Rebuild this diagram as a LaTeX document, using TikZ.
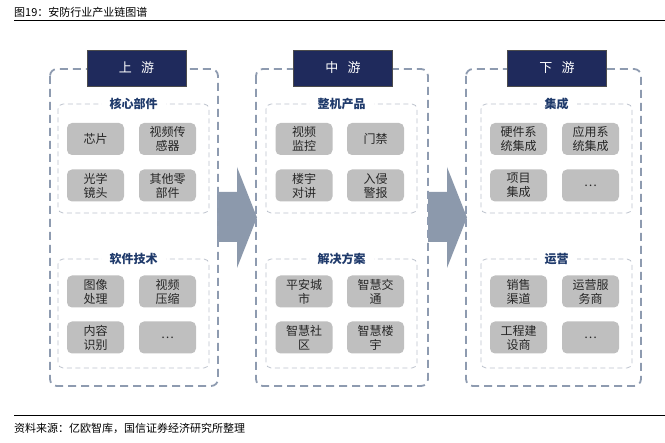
\documentclass[tikz,border=0pt]{standalone}
\usepackage{fontspec}
\setmainfont{Noto Sans CJK SC}
\usetikzlibrary{positioning}

\definecolor{navy}{HTML}{1F2A5C}
\definecolor{lblblue}{HTML}{1F3A6B}
\definecolor{outerc}{HTML}{8E9BB0}
\definecolor{innerc}{HTML}{BCC2CC}
\definecolor{cellc}{HTML}{BFBFBF}
\definecolor{arrc}{HTML}{8C99AC}

\begin{document}
\begin{tikzpicture}[x=1pt,y=-1pt,
  outerbox/.style={draw=outerc,line width=1.8pt,dash pattern=on 8pt off 5pt,rounded corners=7pt},
  innerbox/.style={draw=innerc,line width=0.8pt,dash pattern=on 5pt off 3.5pt,rounded corners=5pt},
  hdr/.style={draw=black!70,line width=0.5pt,fill=navy,text=white,minimum width=99pt,minimum height=36pt,font=\fontsize{13}{15}\selectfont},
  grp/.style={fill=white,text=lblblue,inner xsep=8pt,inner ysep=1pt,font=\fontsize{12}{14}\selectfont\bfseries},
  cell/.style={fill=cellc,rounded corners=5pt,text=black!85,text width=55pt,align=center,minimum height=32pt,inner sep=1pt,font=\fontsize{12}{14}\selectfont}]
\useasboundingbox (0,0) rectangle (665,443);

% title and source
\node[anchor=west,inner sep=0pt,font=\fontsize{11}{13}\selectfont] (title) at (14,12) {图19：安防行业产业链图谱};
\draw[line width=1pt] (14,21) -- (665,21);
\draw[line width=1pt] (14,416) -- (665,416);
\node[anchor=west,inner sep=0pt,font=\fontsize{11}{13}\selectfont] (src) at (14,428) {资料来源：亿欧智库，国信证券经济研究所整理};

% block arrows
\fill[arrc] (217,192) -- (237,192) -- (237,167) -- (257,217.5) -- (237,268) -- (237,242) -- (217,242) -- cycle;
\fill[arrc] (428,192) -- (447,192) -- (447,167) -- (467,217.5) -- (447,268) -- (447,242) -- (428,242) -- cycle;

% outer frames
\draw[outerbox] (50,69) rectangle (218,386);
\draw[outerbox] (256,69) rectangle (428,386);
\draw[outerbox] (466,69) rectangle (641,386);

% inner frames
\draw[innerbox] (58,104) rectangle (209,213);
\draw[innerbox] (58,259) rectangle (209,368);
\draw[innerbox] (266,104) rectangle (417,213);
\draw[innerbox] (266,259) rectangle (417,368);
\draw[innerbox] (481,104) rectangle (632,213);
\draw[innerbox] (481,259) rectangle (632,368);

% headers
\node[hdr] (up) at (136.5,68) {上\hspace{0.7em}游};
\node[hdr] (mid) at (343,68) {中\hspace{0.7em}游};
\node[hdr] (down) at (557,68) {下\hspace{0.7em}游};

% group labels
\node[grp] (core) at (133.5,104) {核心部件};
\node[grp] (soft) at (133.5,259) {软件技术};
\node[grp] (prod) at (341.5,104) {整机产品};
\node[grp] (sol) at (341.5,259) {解决方案};
\node[grp] (integ) at (556.5,104) {集成};
\node[grp] (oper) at (556.5,259) {运营};

% upstream cells
\node[cell] (chip) at (95.5,139) {芯片};
\node[cell] (sensor) at (167.5,139) {视频传\\感器};
\node[cell] (lens) at (95.5,185.5) {光学\\镜头};
\node[cell] (parts) at (167.5,185.5) {其他零\\部件};
\node[cell] (img) at (95.5,291.5) {图像\\处理};
\node[cell] (comp) at (167.5,291.5) {视频\\压缩};
\node[cell] (recog) at (95.5,337.5) {内容\\识别};
\node[cell] (etc1) at (167.5,337.5) {…};

% midstream cells
\node[cell] (video) at (304,139) {视频\\监控};
\node[cell] (door) at (375.5,139) {门禁};
\node[cell] (intercom) at (304,185.5) {楼宇\\对讲};
\node[cell] (alarm) at (375.5,185.5) {入侵\\警报};
\node[cell] (city) at (304,291.5) {平安城\\市};
\node[cell] (traffic) at (375.5,291.5) {智慧交\\通};
\node[cell] (comm) at (304,337.5) {智慧社\\区};
\node[cell] (bldg) at (375.5,337.5) {智慧楼\\宇};

% downstream cells
\node[cell] (hwint) at (518.5,139) {硬件系\\统集成};
\node[cell] (appint) at (590.5,139) {应用系\\统集成};
\node[cell] (proj) at (518.5,185.5) {项目\\集成};
\node[cell] (etc2) at (590.5,185.5) {…};
\node[cell] (sales) at (518.5,291.5) {销售\\渠道};
\node[cell] (svc) at (590.5,291.5) {运营服\\务商};
\node[cell] (eng) at (518.5,337.5) {工程建\\设商};
\node[cell] (etc3) at (590.5,337.5) {…};
\end{tikzpicture}
\end{document}
